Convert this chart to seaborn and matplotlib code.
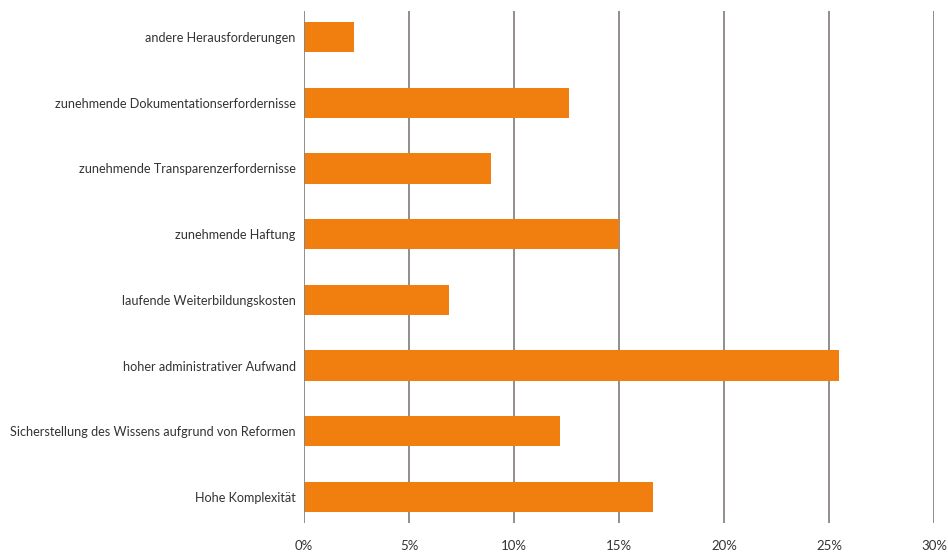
import matplotlib
matplotlib.use("Agg")
import matplotlib.pyplot as plt
import seaborn as sns
import pandas as pd

categories = [
    "andere Herausforderungen",
    "zunehmende Dokumentationserfordernisse",
    "zunehmende Transparenzerfordernisse",
    "zunehmende Haftung",
    "laufende Weiterbildungskosten",
    "hoher administrativer Aufwand",
    "Sicherstellung des Wissens aufgrund von Reformen",
    "Hohe Komplexität",
]
values = [2.4, 12.6, 8.9, 15.0, 6.9, 25.5, 12.2, 16.6]
tick_values = [0, 5, 10, 15, 20, 25, 30]
tick_labels = ["0%", "5%", "10%", "15%", "20%", "25%", "30%"]

sns.set_style("white")
plt.rcParams["font.family"] = ["Lato", "DejaVu Sans"]

df = pd.DataFrame({"cat": categories, "val": values})

fig = plt.figure(figsize=(9.48, 5.53), dpi=100)
ax = fig.add_axes([0.3207, 0.0537, 0.9852 - 0.3207, 0.9807 - 0.0537])
sns.barplot(data=df, x="val", y="cat", color="#F07F0F", width=0.46, ax=ax,
            saturation=1, zorder=3, linewidth=0)
ax.set_xlim(0, 30)
ax.set_ylim(7.4, -0.4)
ax.set_xticks(tick_values)
ax.set_xticklabels(tick_labels, fontsize=9.5, color="#333333")
ax.tick_params(axis="y", labelsize=9.1, colors="#333333", length=0, pad=6)
ax.tick_params(axis="x", length=0, pad=12)
ax.set_xlabel("")
ax.set_ylabel("")
for s in ax.spines.values():
    s.set_visible(False)
for v in tick_values:
    ax.axvline(v, color="#8a8583", linewidth=1.3, zorder=1 if v else 4)
ax.grid(False)
fig.savefig("out.png", dpi=100)
